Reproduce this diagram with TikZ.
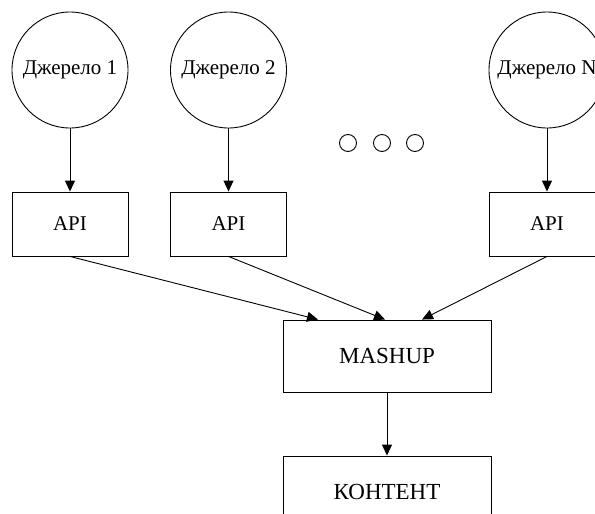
\documentclass[tikz,border=0pt]{standalone}
\usepackage{fontspec}
\setmainfont{Liberation Serif}
\usetikzlibrary{arrows.meta}

\begin{document}
\begin{tikzpicture}[x=1pt, y=-1pt, line width=.9pt,
     src/.style={draw, circle, minimum size=116pt, inner sep=0pt, font=\fontsize{21}{24}\selectfont},
     api/.style={draw, rectangle, minimum width=116pt, minimum height=64pt, font=\fontsize{21}{24}\selectfont},
     big/.style={draw, rectangle, minimum width=208pt, minimum height=72pt, font=\fontsize{23}{26}\selectfont},
     dot/.style={draw, circle, minimum size=17pt, inner sep=0pt},
     >={Triangle[length=11pt, width=10pt]}]
     \clip (0, 0) rectangle (595, 514);

     \node[src] (src1) at (70, 70) {Джерело 1};
     \node[src] (src2) at (228.5, 70) {Джерело 2};
     \node[src] (srcN) at (547, 70) {Джерело N};

     \node[dot] (dot1) at (348, 143) {};
     \node[dot] (dot2) at (382, 143) {};
     \node[dot] (dot3) at (415, 143) {};

     \node[api] (api1) at (70, 224) {API};
     \node[api] (api2) at (228.5, 224) {API};
     \node[api] (apiN) at (547, 224) {API};

     \node[big] (mashup) at (387, 356) {MASHUP};
     \node[big] (content) at (387, 492) {КОНТЕНТ};

     \draw[->] (src1) -- (api1);
     \draw[->] (src2) -- (api2);
     \draw[->] (srcN) -- (apiN);

     \draw[->] (api1.south) -- ([xshift=-69pt]mashup.north);
     \draw[->] (api2.south) -- ([xshift=-2pt]mashup.north);
     \draw[->] (apiN.south) -- ([xshift=35pt]mashup.north);

     \draw[->] (mashup) -- (content);
\end{tikzpicture}
\end{document}
